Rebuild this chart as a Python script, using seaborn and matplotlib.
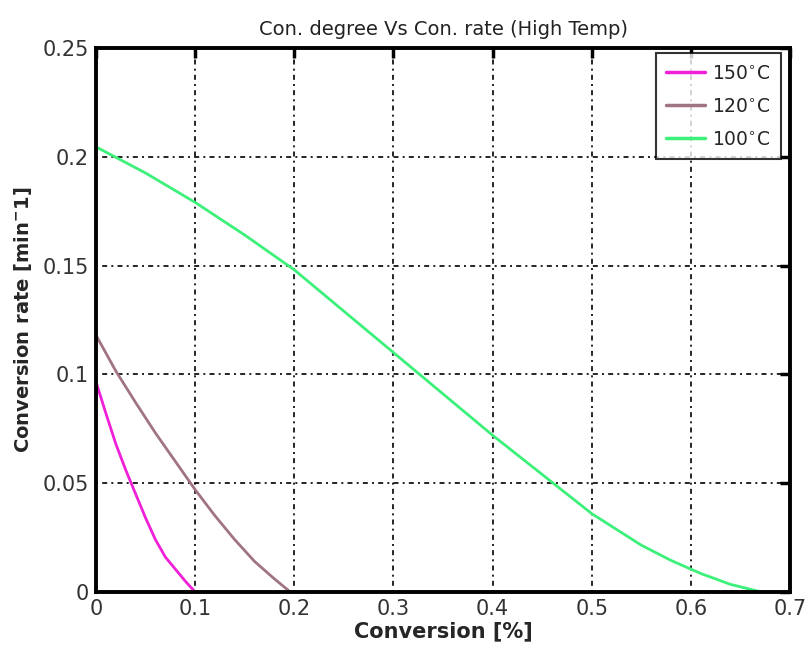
import numpy as np
import pandas as pd
import matplotlib
matplotlib.use("Agg")
import matplotlib.pyplot as plt
import seaborn as sns

# ---- data ----
x150 = [0.0, 0.01, 0.02, 0.03, 0.04, 0.05, 0.06, 0.07, 0.08, 0.09, 0.10]
y150 = [0.0965, 0.082, 0.068, 0.056, 0.045, 0.034, 0.024, 0.016, 0.0105, 0.005, 0.0]

x120 = [0.0, 0.02, 0.04, 0.06, 0.08, 0.10, 0.12, 0.14, 0.16, 0.18, 0.196]
y120 = [0.118, 0.1015, 0.087, 0.073, 0.060, 0.047, 0.035, 0.024, 0.014, 0.006, 0.0]

x100 = [0.0, 0.05, 0.10, 0.15, 0.20, 0.25, 0.30, 0.35, 0.40, 0.45, 0.50, 0.55, 0.58, 0.61, 0.64, 0.671]
y100 = [0.2045, 0.1925, 0.179, 0.164, 0.148, 0.129, 0.110, 0.091, 0.072, 0.054, 0.036, 0.0215, 0.0145, 0.0085, 0.0035, 0.0]

labels = ["150$^{\\circ}$C", "120$^{\\circ}$C", "100$^{\\circ}$C"]
colors = ["#f020d8", "#a07482", "#3cf07a"]

xticks = [0, 0.1, 0.2, 0.3, 0.4, 0.5, 0.6, 0.7]
xticklabels = ["0", "0.1", "0.2", "0.3", "0.4", "0.5", "0.6", "0.7"]
yticks = [0, 0.05, 0.1, 0.15, 0.2, 0.25]
yticklabels = ["0", "0.05", "0.1", "0.15", "0.2", "0.25"]

frames = []
for xs, ys, lab in [(x150, y150, labels[0]), (x120, y120, labels[1]), (x100, y100, labels[2])]:
    frames.append(pd.DataFrame({"x": xs, "y": ys, "series": lab}))
df = pd.concat(frames, ignore_index=True)

sns.set_style("white")
plt.rcParams["font.family"] = ["DejaVu Sans"]
plt.rcParams["mathtext.default"] = "regular"

fig = plt.figure(figsize=(8.07, 6.47), dpi=100)
ax = fig.add_axes([0.119, 0.085, 0.860, 0.841])

sns.lineplot(data=df, x="x", y="y", hue="series", hue_order=labels,
             palette=dict(zip(labels, colors)), estimator=None, sort=False,
             linewidth=2.0, ax=ax)

ax.set_xlim(0, 0.7)
ax.set_ylim(0, 0.25)
ax.set_xticks(xticks)
ax.set_xticklabels(xticklabels)
ax.set_yticks(yticks)
ax.set_yticklabels(yticklabels)

ax.grid(True, color="black", linestyle=(0, (1.2, 2.5, 3, 2.5)), linewidth=1.2)
ax.set_axisbelow(True)

for s in ax.spines.values():
    s.set_visible(True)
    s.set_color("black")
    s.set_linewidth(2.8)

ax.tick_params(axis="both", which="major", direction="in", length=7, width=2.5,
               top=True, right=True, labelsize=15, colors="black", pad=5)
for lab in ax.get_xticklabels() + ax.get_yticklabels():
    lab.set_color("#333333")

ax.set_xlabel("Conversion [%]", fontsize=15, fontweight="bold", labelpad=2)
ax.set_ylabel("Conversion rate [min$^{-}$1]", fontsize=14, fontweight="bold", labelpad=6)
ax.set_title("Con. degree Vs Con. rate (High Temp)", fontsize=14, pad=9, color="#222222")

leg = ax.legend(loc="upper right", fontsize=13.5, frameon=True, fancybox=False,
                edgecolor="black", handlelength=2.1, borderpad=0.55,
                labelspacing=0.75, handletextpad=0.35, borderaxespad=0.0,
                bbox_to_anchor=(0.987, 0.99))
leg.get_frame().set_linewidth(1.5)
for line in leg.get_lines():
    line.set_linewidth(2.5)

fig.savefig("out.png", dpi=100, facecolor="white")
